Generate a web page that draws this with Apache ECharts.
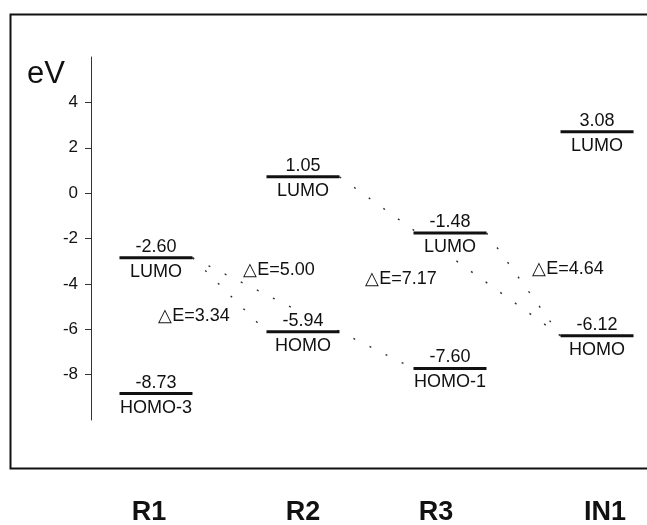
<!DOCTYPE html>
<html><head><meta charset="utf-8">
<script src="https://cdn.jsdelivr.net/npm/echarts@6/dist/echarts.min.js"></script>
<style>html,body{margin:0;padding:0;background:#fff}#c{width:647px;height:525px}</style>
</head><body><div id="c"></div>
<script>
// ---- data ----
const categories = ['R1', 'R2', 'R3', 'IN1'];
const levelCategory = [0, 0, 1, 1, 2, 2, 3, 3];
const levelEnergy = [-2.60, -8.73, 1.05, -5.94, -1.48, -7.60, 3.08, -6.12];
const levelName = ['LUMO', 'HOMO-3', 'LUMO', 'HOMO', 'LUMO', 'HOMO-1', 'LUMO', 'HOMO'];
const transitionFrom = [0, 0, 2, 4];
const transitionTo = [3, 5, 7, 7];
const yTickValues = [4, 2, 0, -2, -4, -6, -8];

// ---- style ----
const FONT = '"Liberation Sans", Arial, Helvetica, sans-serif';
const INK = '#111';
const HALF = 36.5;
const deltaOffsets = [[-35.5, 21.5], [-24, -43.5], [-49, 22.5], [44.5, -15]];
const catShift = [-7, 0, -14, 8]; // horizontal nudge of category titles (px)

const chart = echarts.init(document.getElementById('c'), null, { renderer: 'canvas' });

const levelData = levelEnergy.map((e, i) => [levelCategory[i], e]);
const transData = transitionFrom.map((f, i) => [f, transitionTo[i]]);

const rich = {};
catShift.forEach((s, i) => {
  rich['c' + i] = {
    fontFamily: FONT, fontSize: 27, fontWeight: 'bold', color: INK,
    padding: [0, s < 0 ? -2 * s : 0, 0, s > 0 ? 2 * s : 0]
  };
});

chart.setOption({
  animation: false,
  backgroundColor: '#fff',
  grid: { left: 91, right: 0, top: 57, bottom: 105, containLabel: false, outerBoundsMode: 'none' },
  xAxis: {
    type: 'value', min: -0.442, max: 3.34,
    axisLine: { show: false }, axisTick: { show: false }, splitLine: { show: false },
    axisLabel: {
      customValues: categories.map((c, i) => i),
      formatter: v => { const i = Math.round(v); return categories[i] ? '{c' + i + '|' + categories[i] + '}' : ''; },
      rich: rich,
      fontFamily: FONT, fontSize: 27, fontWeight: 'bold', color: INK, margin: 79
    }
  },
  yAxis: [{
    type: 'value', min: -10, max: 6, position: 'left',
    axisLine: { show: true, onZero: false, lineStyle: { color: '#333', width: 1 } },
    axisTick: { show: true, length: 6, customValues: yTickValues, lineStyle: { color: '#333' } },
    splitLine: { show: false },
    axisLabel: { customValues: yTickValues, fontFamily: FONT, fontSize: 17, color: INK, margin: 13 }
  }, {
    type: 'value', min: -9.923, max: 6.458, show: false
  }],
  graphic: [
    { type: 'rect', shape: { x: 10.5, y: 14.5, width: 700, height: 454 }, style: { fill: 'none', stroke: INK, lineWidth: 2 }, z: 0 },
    { type: 'text', x: 27, y: 74, style: { text: 'eV', font: '31px ' + FONT, fill: INK, verticalAlign: 'middle', align: 'left' } }
  ],
  series: [{
    type: 'custom', name: 'transitions', xAxisIndex: 0, yAxisIndex: 1, z: 1,
    data: transData,
    renderItem(params, api) {
      const f = api.value(0), t = api.value(1);
      const a = api.coord([levelCategory[f], levelEnergy[f]]);
      const b = api.coord([levelCategory[t], levelEnergy[t]]);
      const x1 = a[0] + HALF, y1 = a[1], x2 = b[0] - HALF, y2 = b[1];
      const off = deltaOffsets[params.dataIndex];
      const d = (levelEnergy[f] - levelEnergy[t]).toFixed(2);
      return { type: 'group', children: [
        { type: 'line', shape: { x1, y1, x2, y2 }, style: { stroke: '#333', lineWidth: 1.4, lineDash: [2, 16] } },
        { type: 'text', x: (x1 + x2) / 2 + off[0], y: (y1 + y2) / 2 + off[1],
          style: { text: '\u25B3E=' + d, font: '18px ' + FONT, fill: INK, align: 'center', verticalAlign: 'middle' } }
      ] };
    }
  }, {
    type: 'custom', name: 'levels', xAxisIndex: 0, yAxisIndex: 1, z: 2,
    data: levelData,
    renderItem(params, api) {
      const p = api.coord([api.value(0), api.value(1)]);
      const i = params.dataIndex;
      return { type: 'group', children: [
        { type: 'line', shape: { x1: p[0] - HALF, y1: p[1], x2: p[0] + HALF, y2: p[1] }, style: { stroke: INK, lineWidth: 3 } },
        { type: 'text', x: p[0], y: p[1] - 11,
          style: { text: levelEnergy[i].toFixed(2), font: '18px ' + FONT, fill: INK, align: 'center', verticalAlign: 'middle', backgroundColor: '#fff', padding: [0, 2] } },
        { type: 'text', x: p[0], y: p[1] + 14,
          style: { text: levelName[i], font: '18px ' + FONT, fill: INK, align: 'center', verticalAlign: 'middle', backgroundColor: '#fff', padding: [0, 2] } }
      ] };
    }
  }]
});
</script>
</body></html>
